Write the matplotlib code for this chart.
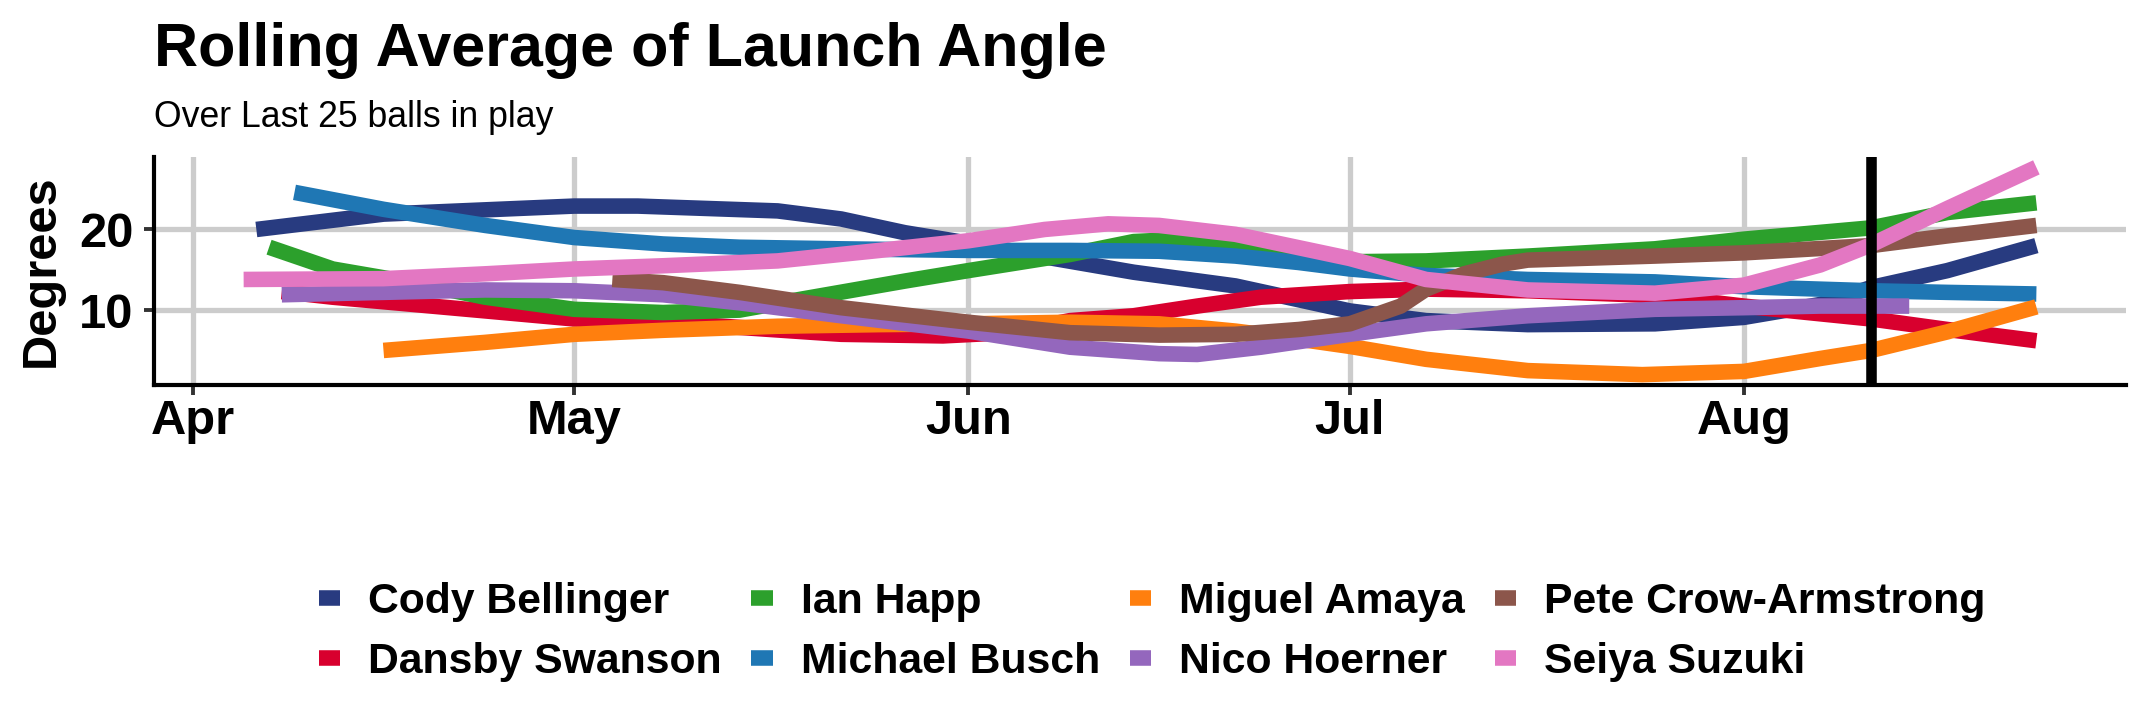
import matplotlib
matplotlib.use("Agg")
import matplotlib.pyplot as plt
import matplotlib.dates as mdates
from matplotlib.lines import Line2D
import pandas as pd

plt.rcParams['font.family'] = ['Liberation Sans', 'DejaVu Sans']

# ---------------- data ----------------
players = ["Cody Bellinger", "Dansby Swanson", "Ian Happ", "Michael Busch",
           "Miguel Amaya", "Nico Hoerner", "Pete Crow-Armstrong", "Seiya Suzuki"]
colors = ["#283B80", "#D8002E", "#2CA02C", "#1F77B4",
          "#FF7F0E", "#9467BD", "#8C564B", "#E377C2"]

cody_dates = ["04-06", "04-16", "05-01", "05-06", "05-17", "05-22", "05-27", "06-01", "06-07",
              "06-14", "06-22", "07-01", "07-07", "07-15", "07-25", "08-01", "08-07", "08-11",
              "08-17", "08-24"]
cody_vals = [20.0, 21.9, 22.9, 22.9, 22.3, 21.3, 19.6, 18.3, 16.6,
             14.7, 13.0, 9.9, 8.7, 8.2, 8.3, 9.1, 10.7, 12.8, 14.9, 18.0]

dansby_dates = ["04-08", "04-12", "04-24", "05-01", "05-08", "05-22", "05-30", "06-04", "06-09",
                "06-14", "06-19", "06-24", "07-01", "07-07", "07-15", "07-25", "08-01", "08-11",
                "08-17", "08-24"]
dansby_vals = [12.3, 11.6, 9.9, 8.9, 8.5, 7.0, 6.8, 7.2, 8.7,
               9.3, 10.5, 11.6, 12.3, 12.6, 12.4, 11.8, 10.5, 8.9, 7.6, 6.2]

ian_dates = ["04-07", "04-12", "04-19", "04-24", "05-01", "05-08", "05-14", "05-19", "05-27",
             "06-01", "06-09", "06-14", "06-18", "06-24", "07-01", "07-07", "07-15", "07-25",
             "08-01", "08-11", "08-17", "08-24"]
ian_vals = [17.8, 15.1, 13.2, 11.6, 10.1, 9.7, 10.0, 11.4, 13.6,
            14.9, 16.9, 18.5, 18.8, 17.4, 16.0, 16.1, 16.7, 17.6, 18.8, 20.2, 22.1, 23.3]

michael_dates = ["04-09", "04-16", "04-24", "05-01", "05-08", "05-14", "05-22", "06-01", "06-09",
                 "06-16", "06-22", "06-27", "07-01", "07-07", "07-15", "07-25", "08-01", "08-11",
                 "08-17", "08-24"]
michael_vals = [24.6, 22.5, 20.5, 19.0, 18.2, 17.8, 17.6, 17.4, 17.4,
                17.3, 16.7, 15.9, 15.1, 14.3, 13.8, 13.5, 12.9, 12.4, 12.2, 12.0]

miguel_dates = ["04-16", "04-24", "05-01", "05-08", "05-17", "05-25", "06-01", "06-09", "06-16",
                "06-22", "06-27", "07-01", "07-07", "07-15", "07-24", "08-01", "08-07", "08-11",
                "08-17", "08-24"]
miguel_vals = [5.0, 6.0, 7.0, 7.5, 8.0, 8.2, 8.3, 8.5, 8.3,
               7.4, 6.4, 5.5, 3.9, 2.5, 2.0, 2.4, 4.0, 5.0, 7.3, 10.4]

nico_dates = ["04-08", "04-16", "04-24", "05-01", "05-08", "05-14", "05-22", "06-01", "06-09",
              "06-16", "06-19", "06-24", "07-01", "07-07", "07-15", "07-25", "08-01", "08-07",
              "08-14"]
nico_vals = [11.9, 12.2, 12.5, 12.4, 11.9, 10.9, 9.3, 7.4, 5.4,
             4.6, 4.5, 5.4, 7.0, 8.3, 9.3, 10.1, 10.3, 10.5, 10.5]

pete_dates = ["05-04", "05-08", "05-14", "05-22", "06-01", "06-09", "06-16", "06-22", "06-27",
              "07-01", "07-05", "07-07", "07-10", "07-13", "07-15", "07-25", "08-01", "08-11",
              "08-17", "08-24"]
pete_vals = [13.8, 13.4, 12.2, 10.3, 8.5, 7.2, 6.9, 7.0, 7.6,
             8.3, 10.5, 12.6, 14.5, 15.7, 16.2, 16.7, 17.1, 18.0, 19.2, 20.5]

seiya_dates = ["04-05", "04-16", "04-24", "05-01", "05-08", "05-17", "05-25", "06-01", "06-07",
               "06-12", "06-16", "06-22", "07-01", "07-07", "07-15", "07-25", "08-01", "08-07",
               "08-11", "08-17", "08-24"]
seiya_vals = [13.8, 13.9, 14.5, 15.1, 15.5, 16.1, 17.4, 18.6, 20.0,
              20.7, 20.5, 19.4, 16.4, 13.8, 12.5, 12.1, 13.1, 15.6, 18.1, 22.6, 27.7]

series_dates = [cody_dates, dansby_dates, ian_dates, michael_dates,
                miguel_dates, nico_dates, pete_dates, seiya_dates]
series_vals = [cody_vals, dansby_vals, ian_vals, michael_vals,
               miguel_vals, nico_vals, pete_vals, seiya_vals]

year = 2024
marker_date = "08-11"
yticks = [10, 20]

title = "Rolling Average of Launch Angle"
subtitle = "Over Last 25 balls in play"
ylabel = "Degrees"

# ---------------- figure ----------------
W, H, DPI = 2148, 720, 200
fig = plt.figure(figsize=(W / DPI, H / DPI), dpi=DPI)
ax = fig.add_axes([154 / W, 1 - 385 / H, (2126 - 154) / W, (385 - 157) / H])

LW = 5.6
for i, (name, col, d, v) in enumerate(zip(players, colors, series_dates, series_vals)):
    x = pd.to_datetime([f"{year}-{s}" for s in d])
    ax.plot(x, v, color=col, lw=LW, solid_capstyle='butt', solid_joinstyle='round',
            zorder=3 + i, label=name)

ax.margins(x=0.05, y=0.05)
ax.axvline(pd.Timestamp(f"{year}-{marker_date}"), color="black", lw=3.8, zorder=20)

# axes styling
ax.set_yticks(yticks)
ax.xaxis.set_major_locator(mdates.MonthLocator())
ax.xaxis.set_major_formatter(mdates.DateFormatter('%b'))
ax.grid(True, color="#CCCCCC", lw=1.9, zorder=0)
ax.set_axisbelow(True)
for s in ["top", "right"]:
    ax.spines[s].set_visible(False)
for s in ["left", "bottom"]:
    ax.spines[s].set_color("black")
    ax.spines[s].set_linewidth(1.5)
ax.tick_params(axis='both', length=3.6, width=1.4, color="#333333",
               labelsize=17.6, labelcolor="black")
ax.tick_params(axis='x', pad=1.5)
ax.tick_params(axis='y', pad=3.8)
for lab in ax.get_xticklabels() + ax.get_yticklabels():
    lab.set_fontweight('bold')

fig.text(41 / W, 1 - 271 / H, ylabel, rotation=90, ha='center', va='center',
         fontsize=17.6, fontweight='bold')

fig.text(154 / W, 1 - 66 / H, title, ha='left', va='baseline',
         fontsize=21.95, fontweight='bold')
fig.text(154 / W, 1 - 127 / H, subtitle, ha='left', va='baseline', fontsize=12.85)

handles = [Line2D([0], [0], color=c, lw=LW, solid_capstyle='butt') for c in colors]
leg = fig.legend(handles, players, loc='center', bbox_to_anchor=(1152 / W, 1 - 632 / H),
                 ncol=4, frameon=False, prop={'size': 15.4, 'weight': 'bold'},
                 handlelength=0.5, handletextpad=0.65, columnspacing=0.7,
                 labelspacing=0.48, borderpad=0)

fig.savefig("out.png", dpi=DPI)
